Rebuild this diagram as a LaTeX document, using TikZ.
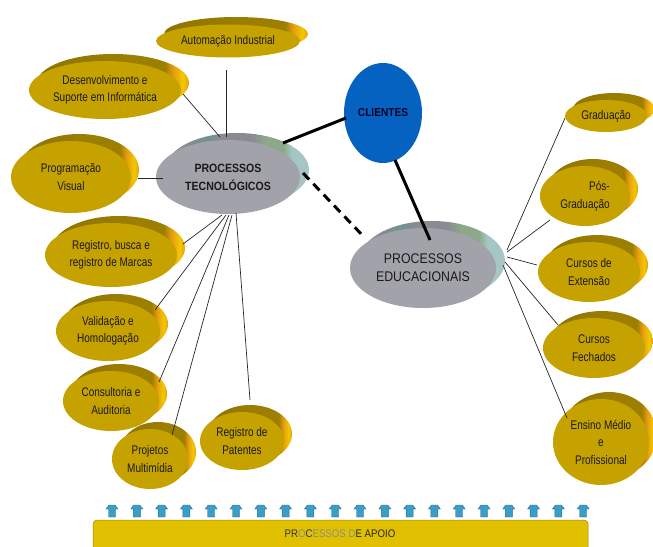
\documentclass[tikz,border=0pt]{standalone}
\usepackage{fontspec}
\setmainfont{Liberation Sans}
\newfontfamily\fnarrow[FakeStretch=0.8]{Liberation Sans}
\newfontfamily\fmid[FakeStretch=0.88]{Liberation Sans}
\usetikzlibrary{shapes.geometric,backgrounds,calc}
\definecolor{goldface}{HTML}{C6A200}
\definecolor{rimL}{HTML}{8E7400}
\definecolor{rimM}{HTML}{9C7E00}
\definecolor{rimR}{HTML}{E89E10}
\definecolor{rimY}{HTML}{F0C800}
\definecolor{grayface}{HTML}{A2A2AA}
\definecolor{grimG}{HTML}{8CA888}
\definecolor{grimM}{HTML}{8A8A92}
\definecolor{grimT}{HTML}{6E9494}
\definecolor{grimR}{HTML}{A6C6C6}
\definecolor{cliblue}{HTML}{0562C0}
\definecolor{barcol}{HTML}{E0C000}
\definecolor{arrowcol}{HTML}{3C9EC6}
\definecolor{arrowedge}{HTML}{1E6E9A}
\definecolor{txtdark}{HTML}{1A1A1A}
\pgfdeclarehorizontalshading{goldrimsh}{100bp}{color(0bp)=(rimL); color(25bp)=(rimL);
  color(55bp)=(rimM); color(67bp)=(rimM); color(70bp)=(rimR); color(73bp)=(rimY); color(75bp)=(rimR); color(100bp)=(rimR)}
\pgfdeclarehorizontalshading{grayrimsh}{100bp}{color(0bp)=(grimG); color(25bp)=(grimG);
  color(32bp)=(grimM); color(40bp)=(grimT); color(44bp)=(grimM); color(55bp)=(grimM);
  color(60bp)=(grimG); color(66bp)=(grimG); color(69bp)=(grimR); color(75bp)=(grimR); color(100bp)=(grimR)}
\newcommand{\goldrimdraw}[3]{\shade[shading=goldrimsh] ($(#1)+(8,-7)$) ellipse [x radius=#2, y radius=#3];}
\newcommand{\grayrimdraw}[3]{\shade[shading=grayrimsh] ($(#1)+(9,-7)$) ellipse [x radius=#2, y radius=#3];}
\begin{document}
\begin{tikzpicture}[x=1pt,y=-1pt,
  goldface/.style={ellipse, fill=goldface, inner sep=0pt, align=center, text=txtdark,
    font=\fnarrow\fontsize{12.5}{17.5}\selectfont},
  grayface/.style={ellipse, fill=grayface, inner sep=0pt, align=center, text=txtdark},
  thinline/.style={draw=black!85, line width=0.7pt},
  thickline/.style={draw=black, line width=3pt},
  dashline/.style={draw=black, line width=3pt, dash pattern=on 9pt off 6pt},
  uparrow/.style={fill=arrowcol, draw=arrowedge, line width=0.4pt}]
\useasboundingbox (0,0) rectangle (653,546);

% gold faces
\node[goldface, minimum width=144, minimum height=33] (auto) at (228,41) {Automação Industrial};
\node[goldface, minimum width=152, minimum height=58] (desenv) at (105,90) {Desenvolvimento e\\Suporte em Informática};
\node[goldface, minimum width=120, minimum height=72] (prog) at (71,177) {Programação\\Visual};
\node[goldface, minimum width=132, minimum height=64] (marcas) at (111,255) {Registro, busca e\\registro de Marcas};
\node[goldface, minimum width=104, minimum height=60] (valid) at (108,331) {Validação e\\Homologação};
\node[goldface, minimum width=96, minimum height=60] (consult) at (111,401) {Consultoria e\\Auditoria};
\node[goldface, minimum width=76, minimum height=60] (proj) at (150,459) {Projetos\\Multimídia};
\node[goldface, minimum width=84, minimum height=58] (pat) at (242,441) {Registro de\\Patentes};
\node[goldface, minimum width=82, minimum height=32] (grad) at (606,116) {Graduação};
\node[goldface, minimum width=90, minimum height=60, align=right] (pos) at (585,196) {Pós-\\Graduação};
\node[goldface, minimum width=102, minimum height=60] (ext) at (589,272) {Cursos de\\Extensão};
\node[goldface, minimum width=102, minimum height=60] (fech) at (594,348) {Cursos\\Fechados};
\node[goldface, minimum width=96, minimum height=86] (ens) at (601,442) {Ensino Médio\\e\\Profissional};

% central nodes
\node[grayface, minimum width=144, minimum height=74,
  font=\fmid\bfseries\fontsize{12}{18}\selectfont] (tec) at (228,177) {PROCESSOS\\TECNOLÓGICOS};
\node[grayface, minimum width=146, minimum height=80,
  font=\fmid\fontsize{14}{18}\selectfont] (edu) at (423,268) {PROCESSOS\\EDUCACIONAIS};
\node[ellipse, fill=cliblue, inner sep=0pt, minimum width=78, minimum height=100,
  text=black!85!blue, font=\fmid\bfseries\fontsize{11.5}{14}\selectfont] (cli) at (383,113) {CLIENTES};

% rims (3D edges) behind faces
\begin{scope}[on background layer]
\goldrimdraw{auto}{72}{17}
\goldrimdraw{desenv}{76}{29}
\goldrimdraw{prog}{60}{36}
\goldrimdraw{marcas}{66}{32}
\goldrimdraw{valid}{52}{30}
\goldrimdraw{consult}{48}{30}
\goldrimdraw{proj}{38}{30}
\goldrimdraw{pat}{42}{29}
\goldrimdraw{grad}{41}{16}
\goldrimdraw{pos}{45}{30}
\goldrimdraw{ext}{51}{30}
\goldrimdraw{fech}{51}{30}
\goldrimdraw{ens}{48}{43}
\grayrimdraw{tec}{72}{37}
\grayrimdraw{edu}{73}{40}
\end{scope}

% thin connectors, left side
\draw[thinline] ($(tec.center)+(-2,-40)$) -- ($(auto.center)+(-2,29)$);
\draw[thinline] ($(tec.center)+(-8,-40)$) -- ($(desenv.center)+(78,4)$);
\draw[thinline] ($(tec.center)+(-65,1)$) -- ($(prog.center)+(67,1)$);
\draw[thinline] ($(tec.center)+(-6,38)$) -- ($(marcas.center)+(72,-11)$);
\draw[thinline] ($(tec.center)+(-2,38)$) -- ($(valid.center)+(47,-21)$);
\draw[thinline] ($(tec.center)+(1,38)$) -- ($(consult.center)+(48,-19)$);
\draw[thinline] ($(tec.center)+(4,38)$) -- ($(proj.center)+(22,-24)$);
\draw[thinline] ($(tec.center)+(8,36)$) -- ($(pat.center)+(8,-41)$);

% thin connectors, right side
\draw[thinline] ($(edu.center)+(84,-18)$) -- ($(grad.center)+(-41,2)$);
\draw[thinline] ($(edu.center)+(84,-16)$) -- ($(pos.center)+(-35,24)$);
\draw[thinline] ($(edu.center)+(84,-11)$) -- ($(ext.center)+(-52,-7)$);
\draw[thinline] ($(edu.center)+(82,-6)$) -- ($(fech.center)+(-36,-23)$);
\draw[thinline] ($(edu.center)+(80,-3)$) -- ($(ens.center)+(-34,-24)$);

% thick connectors
\draw[thickline] ($(tec.center)+(55,-34)$) -- ($(cli.center)+(-37,5)$);
\draw[thickline] ($(cli.center)+(12,47)$) -- ($(edu.center)+(7,-28)$);
\draw[dashline] ($(tec.center)+(75,-4)$) -- ($(edu.center)+(-58,-30)$);

% support bar
\draw[fill=barcol, draw=barcol!70!black, line width=0.5pt, rounded corners=4pt]
  (93,560) -- (93,520) -- (588,520) -- (588,560);
\node[font=\fmid\fontsize{11}{13}\selectfont] (apoio) at (340,534)
  {{\color{black!80}PR}{\color{black!45}O}{\color{black!80}C}{\color{black!45}ESSOS D}{\color{black!85}E APOIO}};

% up arrows
\foreach \i in {0,...,19}{
  \path[uparrow] ($(112,505)+(24.8*\i,0)$) ++(-3,0) -- ++(6,0) -- ++(3,4) -- ++(-2.5,0)
    -- ++(0,8) -- ++(-7,0) -- ++(0,-8) -- ++(-2.5,0) -- cycle;
}
\end{tikzpicture}
\end{document}
